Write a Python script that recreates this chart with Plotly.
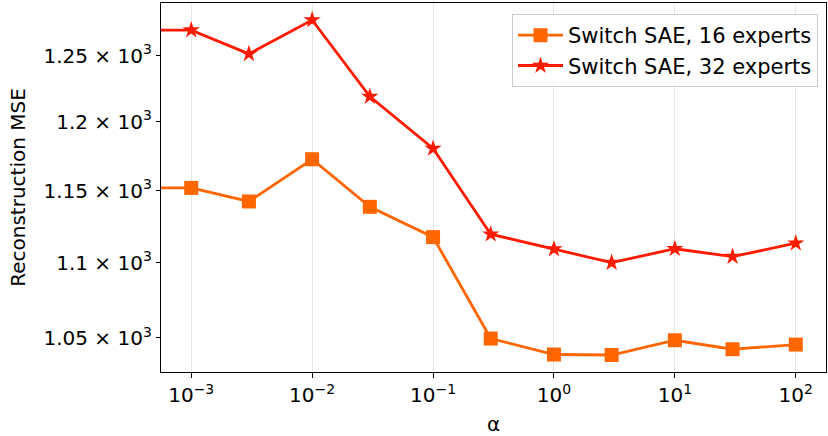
import plotly.graph_objects as go

# alpha values (first entry stands in for alpha = 0, which falls off the left of the log axis)
alpha = [1e-12, 1e-3, 3e-3, 1e-2, 3e-2, 1e-1, 3e-1, 1, 3, 10, 30, 100]
mse_16 = [1152, 1152, 1142.4, 1172.6, 1138.6, 1117.5, 1049.6, 1039.3, 1039.0, 1048.5, 1042.7, 1045.7]
mse_32 = [1270, 1270, 1251.5, 1278, 1218.9, 1180.4, 1119.5, 1109.3, 1100.0, 1109.5, 1104.1, 1113.3]

x_tickvals = [1e-3, 1e-2, 1e-1, 1, 10, 100]
x_ticktext = ["10<sup>−3</sup>", "10<sup>−2</sup>", "10<sup>−1</sup>", "10<sup>0</sup>", "10<sup>1</sup>", "10<sup>2</sup>"]
y_tickvals = [1050, 1100, 1150, 1200, 1250]
y_ticktext = ["1.05 × 10<sup>3</sup>", "1.1 × 10<sup>3</sup>", "1.15 × 10<sup>3</sup>", "1.2 × 10<sup>3</sup>", "1.25 × 10<sup>3</sup>"]

FONT = "DejaVu Sans"
fig = go.Figure()
fig.add_trace(go.Scatter(
    x=alpha, y=mse_16, mode="lines+markers", name="Switch SAE, 16 experts",
    line=dict(color="#FF6600", width=2.8),
    marker=dict(symbol="square", size=14, color="#FF6600"),
))
fig.add_trace(go.Scatter(
    x=alpha, y=mse_32, mode="lines+markers", name="Switch SAE, 32 experts",
    line=dict(color="#FF1A00", width=2.8),
    marker=dict(symbol="star", size=13, color="#FF1A00"),
))

fig.update_layout(
    width=828, height=436,
    margin=dict(l=161, r=2, t=3, b=64),
    paper_bgcolor="white", plot_bgcolor="white",
    font=dict(family=FONT, size=20, color="black"),
    showlegend=True,
    legend=dict(x=0.988, y=0.97, xanchor="right", yanchor="top",
                bgcolor="rgba(255,255,255,0.85)", bordercolor="#cccccc", borderwidth=1,
                font=dict(size=21), tracegroupgap=0, itemwidth=45),
)
fig.update_xaxes(
    type="log", range=[-3.25, 2.25],
    tickvals=x_tickvals, ticktext=x_ticktext,
    ticks="outside", ticklen=5, tickwidth=1.2, tickcolor="black",
    showgrid=True, gridcolor="#e6e6e6", gridwidth=1,
    showline=True, linecolor="black", linewidth=1.3, mirror=True,
    zeroline=False,
    title=dict(text="α", font=dict(size=20), standoff=12),
    tickfont=dict(size=20),
)
fig.update_yaxes(
    type="log", range=[3.01205, 3.11108],
    tickvals=y_tickvals, ticktext=y_ticktext,
    ticks="outside", ticklen=4, tickwidth=1.2, tickcolor="black",
    showgrid=False,
    showline=True, linecolor="black", linewidth=1.3, mirror=True,
    zeroline=False,
    title=dict(text="Reconstruction MSE", font=dict(size=20), standoff=12),
    tickfont=dict(size=20),
)

fig.write_html("out.html")
